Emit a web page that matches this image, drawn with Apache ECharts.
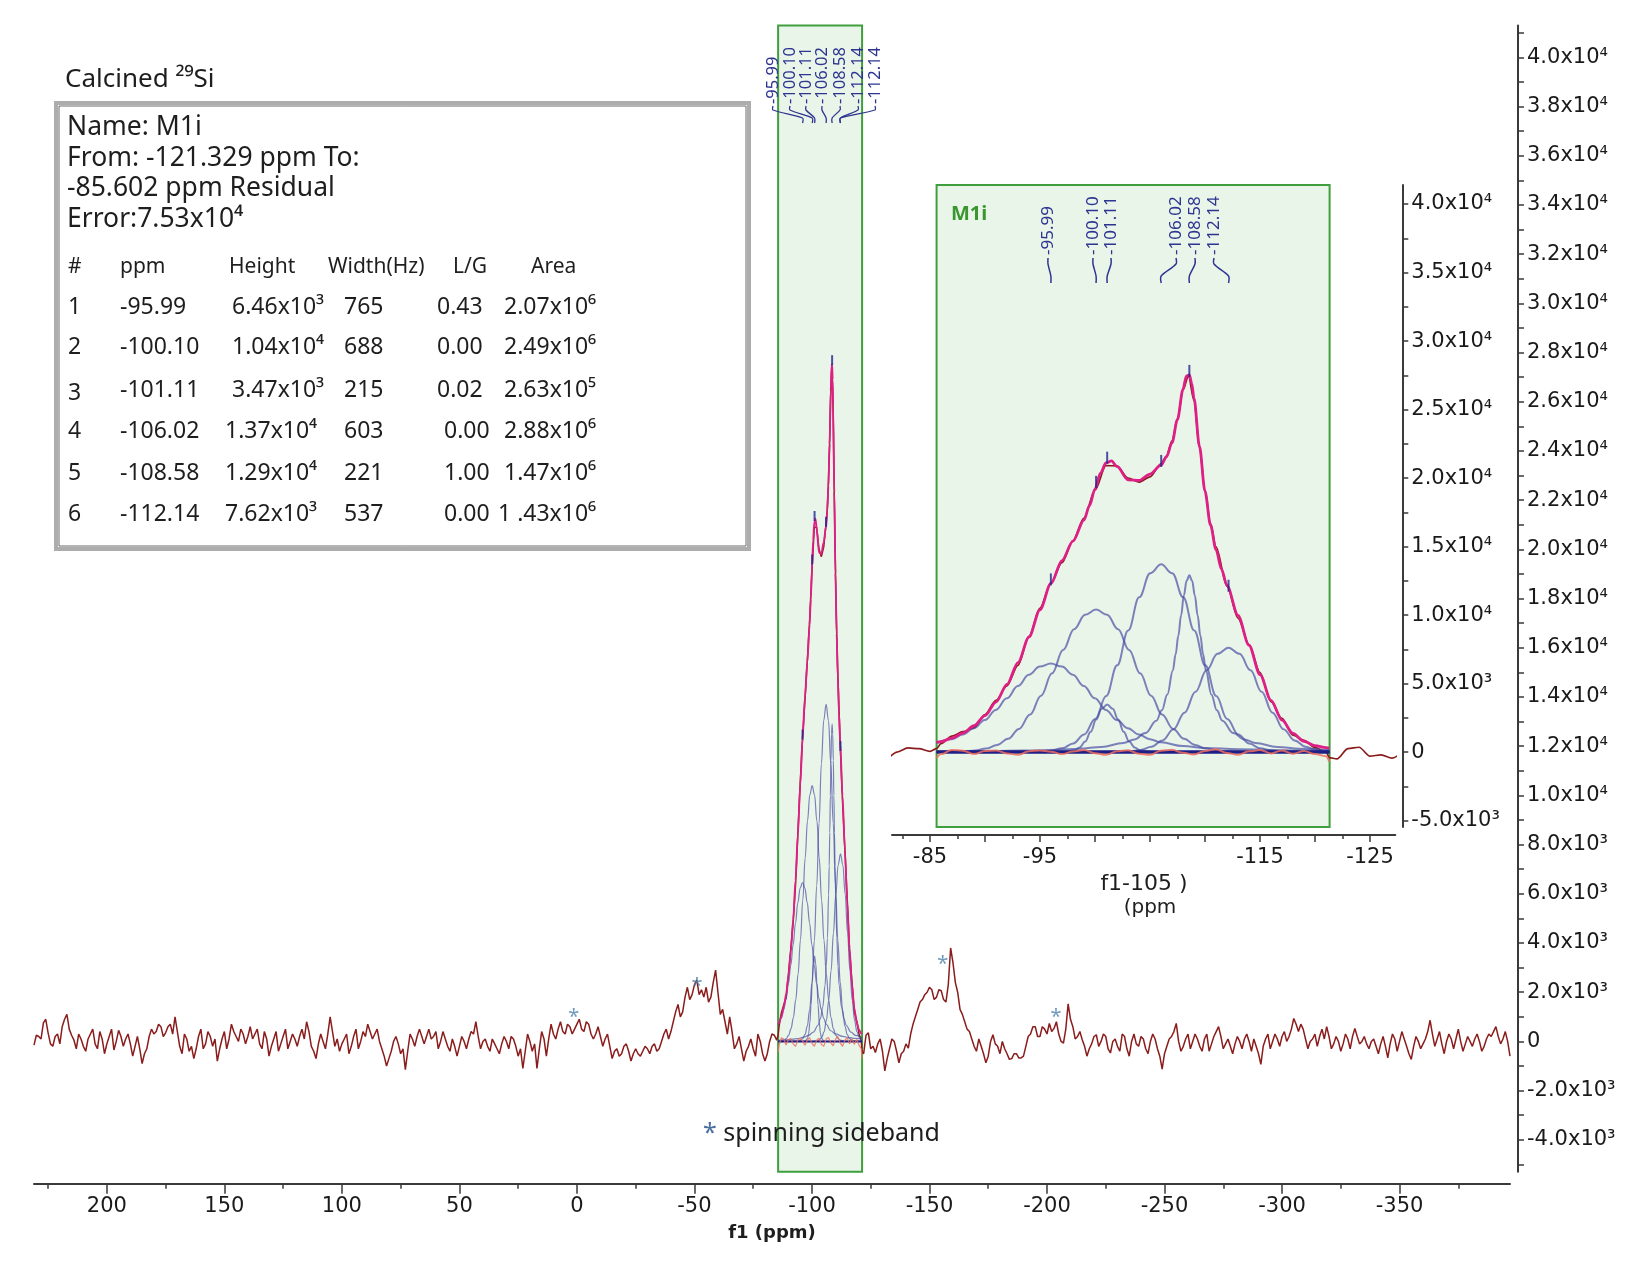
<!DOCTYPE html>
<html>
<head>
<meta charset="utf-8">
<script src="https://cdn.jsdelivr.net/npm/echarts@6.0.0/dist/echarts.min.js"></script>
<style>
  html, body { margin: 0; padding: 0; background: #fff; }
  #chart { width: 1651px; height: 1263px; }
</style>
</head>
<body>
<div id="chart"></div>
<script>
// ---- fit report (table) ----
const peakNo = ['1', '2', '3', '4', '5', '6'];
const peakPpm = [-95.99, -100.10, -101.11, -106.02, -108.58, -112.14];
const peakPpmText = ['-95.99', '-100.10', '-101.11', '-106.02', '-108.58', '-112.14'];
const peakHeightText = ['6.46x10³', '1.04x10⁴', '3.47x10³', '1.37x10⁴', '1.29x10⁴', '7.62x10³'];
const peakWidthText = ['765', '688', '215', '603', '221', '537'];
const peakLGText = ['0.43', '0.00', '0.02', '0.00', '1.00', '0.00'];
const peakAreaText = ['2.07x10⁶', '2.49x10⁶', '2.63x10⁵', '2.88x10⁶', '1.47x10⁶', '1 .43x10⁶'];
// fit value where the small peak ticks sit
const peakMarkY = [12310, 19430, 21196, 20960, 27529, 11848];
// the top labels of the full spectrum (one value is printed twice)
const mainLabelText = ['-95.99', '-100.10', '-101.11', '-106.02', '-108.58', '-112.14', '-112.14'];
const mainLabelPpm = [-95.99, -100.10, -101.11, -106.02, -108.58, -112.14, -112.14];
const fitRange = [-85.602, -121.329];

// ---- experimental spectrum ----
// 231 ppm down to -83 ppm, every 1 ppm
const expLeftStart = 231;
const expLeft = [
  -150, 250, 200, 100, 750, 900, 350, -100, -200, 200, 300, -100, 600, 900, 1100, 500, 250, 50, -300,
  300, 100, -200, -400, 100, 300, 500, -100, -300, 400, 100, -500, -100, 200, 500, -350, 0, 450, 200, -200,
  100, 300, -100, -600, -200, 200, -300, -900, -500, -300, 200, 500, 300, 400, 700, 600, 200, 350, 600, 700,
  300, 1000, 400, -200, -500, 300, 100, -400, -200, -700, -300, 200, 500, -300, -100, 400, 200, -200, 100, -800,
  -300, 100, 400, -300, 100, 700, 400, 200, 0, 500, 300, -100, 200, 600, 100, 300, 500, -100, -300, 400,
  100, -600, -200, 100, 400, -400, -100, 200, 500, -300, 0, 300, 100, -200, 200, 500, 100, 800, 400, -200,
  -400, -700, -100, 300, 0, -300, 300, 1000, 400, -200, 100, -400, -100, 100, 300, -500, -200, 200, 500, -300,
  0, 400, 200, 700, 400, 100, 300, 500, 0, -300, -600, -1000, -700, -400, 0, 200, -100, -500, -300, -1150,
  -400, 300, 100, -200, 200, 500, 200, -100, 200, 500, 100, 200, 400, -300, 0, 400, 100, -200, -400, 100,
  -200, -600, -200, 200, 0, -300, 100, 400, 300, 800, 200, -300, 0, 100, -200, -400, 100, -100, -300, -500,
  -100, 200, 0, -300, 200, 100, -200, -600, -300, -1100, -400, 300, 0, -400, -100, -1100, -300, 400, 100, -600,
  100, 700, 300, 100, 500, 800, 400, 300, 700, 600, 300, 500, 700, 900, 500, 400, 800, 700, 300, 100,
  300, 600, 200, -200, 100, 300, -200, -700, -400, -300, -600, -500, -200, -100, -400, -800, -500, -300, -500, -600,
  -400, -200, -300, -500, -200, -100, -400, -300, 0, 300, 500, 100, 400, 800, 1200, 1500, 1000, 1200, 1800, 2200,
  1700, 1900, 2300, 2500, 1900, 2100, 1800, 2200, 1600, 1800, 2400, 2900, 2000, 1100, 1300, 800, 300, 1000, 400, -300,
  -100, 200, -300, -800, -400, -200, 100, -300, -600, 300, 0, -500, -800, -500, 0, 300
];
// fitted region, finer
const expCentral = [
  [-84, 250], [-85, 50], [-85.6, 250], [-86, 615], [-87, 1166], [-88, 1488], [-89, 1769],
  [-90, 2738], [-91, 3772], [-92, 4835], [-93, 6334], [-94, 8453], [-95, 10501], [-96, 12339],
  [-97, 13828], [-98, 15436], [-99, 17085], [-100, 19117], [-101, 20904], [-102, 20895],
  [-103, 20003], [-104, 19704], [-105, 20092], [-106, 21042], [-106.5, 21600], [-107, 22721],
  [-107.5, 24300], [-108, 26423], [-108.5, 27440], [-109, 25659], [-109.5, 22200], [-110, 19118],
  [-110.5, 16700], [-111, 14971], [-112, 12103], [-113, 9779], [-114, 7847], [-115, 5807],
  [-116, 3679], [-117, 2453], [-118, 1238], [-119, 862], [-120, 324], [-121, 24],
  [-121.3, -405], [-122, -500]
];
// -123 ppm down to -397 ppm, every 1 ppm
const expRightStart = -123;
const expRight = [
  250, 350, -300, -200, -450, -100, 100, -400, -1200, -700, -300, 100, 0, -400, -870, -500, -400, -100, -270, 300,
  700, 1000, 1300, 1600, 1700, 1900, 2000, 2200, 2100, 1700, 1800, 2100, 2060, 1700, 1600, 2300, 3800, 3200, 2400, 2000,
  1300, 1100, 800, 500, 400, 100, -200, -400, 100, -200, -500, -870, -600, 0, 270, -100, -200, -500, 0, -300,
  -500, -730, -700, -500, -500, -670, -670, -600, -200, 200, 300, 600, 600, 200, 200, 600, 500, 300, 730, 400,
  530, 800, 300, 0, -70, 500, 1530, 900, 600, 100, 200, 400, 70, -200, -600, -300, -100, 200, 270, -200,
  0, 300, 200, -300, -470, 0, 100, -200, -400, 300, 200, -300, -600, 0, 300, -100, -200, 200, 100, -300,
  -500, 0, 300, 100, -300, -600, -1130, -500, -200, 100, 200, 400, 730, 0, -400, -200, 100, 300, -300, 0,
  300, 100, -200, -400, 100, 300, -400, -100, 200, 400, 600, 200, -300, -100, 100, -200, -500, -100, 200, 0,
  -300, 100, 300, 0, -400, 100, -200, -500, -930, -200, 100, 300, -300, 0, 300, 100, -200, 200, 400, 0,
  200, 500, 930, 700, 400, 700, 500, 100, -300, 0, 100, 300, -200, 200, 500, 100, 600, 200, -300, -100,
  200, 0, -400, -100, 300, 100, -300, 200, 530, 200, -100, 0, 200, -100, -300, 0, 100, -200, -500, -100,
  200, -200, -670, -100, 300, 100, -400, 0, 400, 100, -200, -500, -730, -200, 200, 0, -300, -100, 100, 400,
  860, 300, -200, 100, 400, -100, -500, 0, 300, 100, -300, 100, 500, 0, -400, -100, 200, 0, -200, 100,
  300, 0, -400, -200, 100, 300, 200, 400, 600, 200, -100, 100, 400, 0, -600
];
const expStep = 1;

// ---- fit, residual, components ----
const fitCurve = [
  [-85.6, 702], [-86, 765], [-87, 1016], [-88, 1388], [-89, 1919], [-90, 2658], [-91, 3652],
  [-92, 4935], [-93, 6534], [-94, 8393], [-95, 10381], [-96, 12309], [-97, 13978], [-98, 15396],
  [-99, 16935], [-99.5, 17987], [-100, 19197], [-100.5, 20361], [-101, 21104], [-101.5, 21248],
  [-102, 20845], [-103, 19873], [-104, 19824], [-105, 20292], [-106, 20942], [-106.5, 21539],
  [-107, 22561], [-107.5, 24283], [-108, 26473], [-108.3, 27440], [-108.58, 27529], [-108.8, 26894],
  [-109, 25839], [-109.5, 22317], [-110, 19038], [-110.5, 16576], [-111, 14771], [-111.5, 13358],
  [-112, 12163], [-113, 9979], [-114, 7797], [-115, 5657], [-116, 3779], [-117, 2333],
  [-118, 1358], [-119, 782], [-120, 474], [-121, 324], [-121.3, 295]
];
const residual = [
  [-85.6, -450], [-86, -150], [-87, 150], [-88, 100], [-89, -150], [-90, 80], [-91, 120],
  [-92, -100], [-93, -200], [-94, 60], [-95, 120], [-96, 30], [-97, -150], [-98, 40], [-99, 150],
  [-100, -80], [-101, -200], [-102, 50], [-103, 130], [-104, -120], [-105, -200], [-106, 100],
  [-107, 160], [-108, -50], [-109, -180], [-110, 80], [-111, 200], [-112, -60], [-113, -200],
  [-114, 50], [-115, 150], [-116, -100], [-117, 120], [-118, -120], [-119, 80], [-120, -150],
  [-121, -300], [-121.3, -700]
];
const comp1 = [
  [-85.6, 650], [-86.99, 942], [-87.99, 1279], [-88.99, 1739], [-89.99, 2339], [-90.99, 3079],
  [-91.99, 3921], [-92.99, 4813], [-93.99, 5638], [-94.99, 6236], [-95.99, 6460], [-96.99, 6236],
  [-97.99, 5638], [-98.99, 4813], [-99.99, 3921], [-100.99, 3079], [-101.99, 2339], [-102.99, 1739],
  [-103.99, 1279], [-104.99, 942], [-105.99, 707], [-107.99, 434], [-109.99, 304], [-112.99, 206],
  [-115.99, 152], [-118.5, 121], [-121.3, 97]
];
const comp2 = [
  [-85.6, 5], [-88.1, 50], [-89.1, 118], [-90.1, 256], [-91.1, 517], [-92.1, 970], [-93.1, 1692],
  [-94.1, 2739], [-95.1, 4118], [-96.1, 5748], [-97.1, 7451], [-98.1, 8967], [-99.1, 10021],
  [-100.1, 10400], [-101.1, 10021], [-102.1, 8967], [-103.1, 7451], [-104.1, 5748], [-105.1, 4118],
  [-106.1, 2739], [-107.1, 1692], [-108.1, 970], [-109.1, 517], [-110.1, 256], [-111.1, 118],
  [-112.1, 50], [-114.1, 7], [-121.3, 0]
];
const comp3 = [
  [-85.6, 0], [-96.11, 1], [-97.11, 15], [-98.11, 123], [-98.61, 331], [-99.11, 764], [-99.61, 1476],
  [-100.11, 2370], [-100.61, 3154], [-101.11, 3470], [-101.61, 3154], [-102.11, 2370], [-102.61, 1476],
  [-103.11, 764], [-103.61, 331], [-104.11, 123], [-105.11, 15], [-106.11, 1], [-121.3, 0]
];
const comp4 = [
  [-85.6, 0], [-92.02, 1], [-94.02, 13], [-95.02, 40], [-96.02, 110], [-97.02, 275], [-98.02, 625],
  [-99.02, 1288], [-100.02, 2413], [-101.02, 4100], [-102.02, 6331], [-103.02, 8873], [-104.02, 11296],
  [-105.02, 13055], [-106.02, 13700], [-107.02, 13055], [-108.02, 11296], [-109.02, 8873],
  [-110.02, 6331], [-111.02, 4100], [-112.02, 2413], [-113.02, 1288], [-114.02, 625], [-115.02, 275],
  [-116.02, 110], [-117.02, 40], [-118.02, 13], [-120.02, 1], [-121.3, 0]
];
const comp5 = [
  [-85.6, 47], [-90.58, 76], [-93.58, 110], [-96.58, 171], [-98.58, 244], [-100.58, 378],
  [-102.58, 657], [-103.58, 925], [-104.58, 1390], [-105.58, 2280], [-106.08, 3046], [-106.58, 4202],
  [-107.08, 5960], [-107.33, 7132], [-107.58, 8500], [-107.83, 9991], [-108.08, 11422], [-108.33, 12495],
  [-108.58, 12900], [-108.83, 12495], [-109.08, 11422], [-109.33, 9991], [-109.58, 8500], [-109.83, 7132],
  [-110.08, 5960], [-110.58, 4202], [-111.08, 3046], [-111.58, 2280], [-112.58, 1390], [-113.58, 925],
  [-114.58, 657], [-116.58, 378], [-118.58, 244], [-121.3, 152]
];
const comp6 = [
  [-85.6, 0], [-100.14, 1], [-102.14, 17], [-103.14, 55], [-104.14, 155], [-105.14, 386],
  [-106.14, 852], [-107.14, 1664], [-108.14, 2878], [-109.14, 4407], [-110.14, 5974], [-111.14, 7170],
  [-112.14, 7620], [-113.14, 7170], [-114.14, 5974], [-115.14, 4407], [-116.14, 2878], [-117.14, 1664],
  [-118.14, 852], [-119.14, 386], [-120.14, 155], [-121.14, 55], [-121.3, 48]
];
const components = [comp1, comp2, comp3, comp4, comp5, comp6];

// spinning sideband markers
const sidebandMarks = [[1.3, 996], [-51.1, 2256], [-155.7, 3130], [-203.8, 996]];

// ---- axis ticks ----
const mainXMajor = [200, 150, 100, 50, 0, -50, -100, -150, -200, -250, -300, -350];
const mainXMinor = [225, 175, 125, 75, 25, -25, -75, -125, -175, -225, -275, -325, -375];
const mainYLabels = [-4000, -2000, 0, 2000, 4000, 6000, 8000, 10000, 12000, 14000, 16000, 18000,
  20000, 22000, 24000, 26000, 28000, 30000, 32000, 34000, 36000, 38000, 40000];
const insetXMajor = [-85, -90, -95, -100, -105, -110, -115, -120, -125];
const insetXLabels = [-85, -95, -115, -125];
const insetXMinor = [-82.5, -87.5, -92.5, -97.5, -102.5, -107.5, -112.5, -117.5, -122.5];
const insetYLabels = [-5000, 0, 5000, 10000, 15000, 20000, 25000, 30000, 35000, 40000];

const expData = [];
expLeft.forEach((v, i) => expData.push([expLeftStart - expStep * i, v]));
expCentral.forEach(p => expData.push(p));
expRight.forEach((v, i) => expData.push([expRightStart - expStep * i, v]));

const mainYTicks = [];
for (let v = -5000; v <= 41000; v += 1000) mainYTicks.push(v);
const insetYTicks = [];
for (let v = -5000; v <= 40000; v += 2500) insetYTicks.push(v);

function sci(v) {
  if (v === 0) return '0';
  const e = Math.abs(v) >= 10000 ? 4 : 3;
  return (v / Math.pow(10, e)).toFixed(1) + 'x10' + (e === 4 ? '⁴' : '³');
}

const AX = '#3a3a3a';
const TF = 'DejaVu Sans';
const EXP = '#8b1c1c', FIT = '#de1f86', COMP = 'rgba(70,74,160,0.68)', RES = 'rgba(240,110,95,0.85)', BASE = '#1e1e84';
const PEAK = '#24248c';

function xAxisDef(grid, min, max, offset, ticks, labels, len) {
  return {
    type: 'value', gridIndex: grid, min: min, max: max, inverse: true, position: 'bottom', offset: offset,
    axisLine: { show: !!labels, onZero: false, lineStyle: { color: AX, width: 2 } },
    axisTick: { show: true, length: len, customValues: ticks, lineStyle: { color: AX, width: 1.5 } },
    axisLabel: labels ? { customValues: labels, margin: 12, fontFamily: TF, fontSize: 21, color: '#1a1a1a' } : { show: false },
    splitLine: { show: false }
  };
}
function yAxisDef(grid, min, max, offset, ticks, labels) {
  return {
    type: 'value', gridIndex: grid, min: min, max: max, position: 'right', offset: offset,
    axisLine: { show: true, onZero: false, lineStyle: { color: AX, width: 2 } },
    axisTick: { show: true, length: 6, customValues: ticks, lineStyle: { color: AX, width: 1.5 } },
    axisLabel: { customValues: labels, formatter: sci, margin: 9, fontFamily: TF, fontSize: 21, color: '#1a1a1a' },
    splitLine: { show: false }
  };
}
function line(data, xi, yi, color, width, z, smooth) {
  return {
    type: 'line', xAxisIndex: xi, yAxisIndex: yi, data: data, symbol: 'none', z: z,
    smooth: smooth || false, smoothMonotone: 'x',
    lineStyle: { color: color, width: width }, silent: true
  };
}
function boxSeries(xi, yi, yMin, yMax) {
  return {
    type: 'line', xAxisIndex: xi, yAxisIndex: yi, data: [], z: 0, silent: true,
    markArea: {
      silent: true,
      itemStyle: { color: '#eaf5ea', borderColor: '#3f9f3f', borderWidth: 2 },
      data: [[{ xAxis: fitRange[0], yAxis: yMax }, { xAxis: fitRange[1], yAxis: yMin }]]
    }
  };
}
function peakTicks(xi, yi, size) {
  return {
    type: 'scatter', xAxisIndex: xi, yAxisIndex: yi, z: 6, silent: true,
    symbol: 'rect', symbolSize: size, symbolOffset: [0, -4],
    itemStyle: { color: PEAK },
    data: peakPpm.map((p, i) => [p, peakMarkY[i]])
  };
}

const series = [];
// main spectrum (grid 0)
series.push(boxSeries(0, 0, -5300, 41300));
series.push(line(expData, 0, 0, EXP, 1.5, 2));
components.forEach(c => series.push(line(c, 0, 0, COMP, 1.2, 3, 0.4)));
series.push(line([[fitRange[0], 0], [fitRange[1], 0]], 0, 0, BASE, 2, 4));
series.push(line(residual, 0, 0, RES, 1.2, 4));
series.push(line(fitCurve, 0, 0, FIT, 1.9, 5, 0.3));
series.push(peakTicks(0, 0, [2, 10]));
series.push({
  type: 'scatter', xAxisIndex: 0, yAxisIndex: 0, z: 7, silent: true,
  symbolSize: 1, itemStyle: { color: 'rgba(0,0,0,0)' },
  label: { show: true, position: 'inside', formatter: '*', fontFamily: 'Noto Sans', fontSize: 20, color: '#4b82a8' },
  data: sidebandMarks
});
// inset (grid 1)
series.push(boxSeries(2, 1, -5470, 41390));
series.push(line(expData, 2, 1, EXP, 1.7, 2, 0.3));
components.forEach(c => series.push(line(c, 2, 1, COMP, 2, 3, 0.4)));
series.push(line([[fitRange[0], 0], [fitRange[1], 0]], 2, 1, BASE, 3.5, 4));
series.push(line(residual, 2, 1, RES, 2, 4, 0.4));
series.push(line(fitCurve, 2, 1, FIT, 2.8, 5, 0.3));
series.push(peakTicks(2, 1, [2, 12]));

const option = {
  animation: false,
  backgroundColor: '#ffffff',
  grid: [
    { left: 34, top: 25.4, width: 1476, height: 1146.4, containLabel: false, outerBoundsMode: 'none' },
    { left: 892, top: 185, width: 503.3, height: 642, containLabel: false, outerBoundsMode: 'none' }
  ],
  xAxis: [
    xAxisDef(0, -397, 231, 12, mainXMajor, mainXMajor, 10),
    xAxisDef(0, -397, 231, 12, mainXMinor, null, 5),
    xAxisDef(1, -127.3, -81.55, 8, insetXMajor, insetXLabels, 7),
    xAxisDef(1, -127.3, -81.55, 8, insetXMinor, null, 4)
  ],
  yAxis: [
    yAxisDef(0, -5300, 41300, 8, mainYTicks, mainYLabels),
    yAxisDef(1, -5470, 41390, 7, insetYTicks, insetYLabels)
  ],
  series: series
};

const chart = echarts.init(document.getElementById('chart'));
chart.setOption(option);

// ---- text blocks, table and peak labels ----
const TXT = '#1e1e1e';
function text(str, x, y, size, opts) {
  const o = opts || {};
  return {
    type: 'text', x: x, y: y, rotation: o.rotation || 0, z: 100,
    style: {
      text: str, fill: o.color || TXT, fontFamily: o.family || 'Noto Sans', fontSize: size,
      fontWeight: o.weight || 'normal', align: o.align || 'left', verticalAlign: 'middle'
    }
  };
}
const g = [];
g.push(text('Calcined ²⁹Si', 65, 80, 26));
g.push({ type: 'rect', z: 90, shape: { x: 56, y: 103, width: 693, height: 446 },
  style: { fill: '#ffffff', stroke: '#adadad', lineWidth: 4 } });
g.push({ type: 'rect', z: 91, shape: { x: 59, y: 106, width: 687, height: 440 },
  style: { fill: 'none', stroke: '#6a6a6a', lineWidth: 1 } });
['Name: M1i', 'From: -121.329 ppm To:', '-85.602 ppm Residual', 'Error:7.53x10⁴']
  .forEach((s, i) => g.push(text(s, 67, [127, 158, 188, 219][i], 26.5)));
const headX = [68, 120, 229, 328, 453, 531];
['#', 'ppm', 'Height', 'Width(Hz)', 'L/G', 'Area'].forEach((s, i) => g.push(text(s, headX[i], 267, 21)));
const rowY = [307, 347, 390, 431, 473, 514];
peakNo.forEach((n, i) => {
  const y = rowY[i];
  g.push(text(n, 68, y + (i === 2 ? 3 : 0), 23));
  g.push(text(peakPpmText[i], 120, y, 23));
  g.push(text(peakHeightText[i], i < 3 ? 232 : 225, y, 23));
  g.push(text(peakWidthText[i], 344, y, 23));
  g.push(text(peakLGText[i], i < 3 ? 437 : 444, y, 23));
  g.push(text(peakAreaText[i], i < 5 ? 504 : 498, y, 23));
});

g.push({
  type: 'text', x: 703, y: 1134, z: 100,
  style: {
    text: '{a|*} spinning sideband', fill: TXT, fontFamily: 'Noto Sans', fontSize: 25, verticalAlign: 'middle',
    rich: { a: { fill: '#4b6fa0', fontFamily: 'Noto Sans', fontSize: 25 } }
  }
});
g.push(text('f1 (ppm)', 772, 1233, 18, { family: TF, weight: 'bold', align: 'center' }));
g.push(text('f1-105 )', 1144, 884, 22, { family: TF, align: 'center' }));
g.push(text('(ppm', 1150, 908, 20, { family: TF, align: 'center' }));
g.push(text('M1i', 951, 214, 20, { weight: 'bold', color: '#3a962e' }));

const LBL = '#2d3590';
// main spectrum labels
const mainLabelX = [773, 790, 806, 822, 840, 858, 875];
mainLabelText.forEach((s, i) => {
  const lx = mainLabelX[i];
  const px = chart.convertToPixel({ xAxisIndex: 0 }, mainLabelPpm[i]);
  g.push(text(s, lx, 104, 16.5, { rotation: Math.PI / 2, color: LBL }));
  g.push({ type: 'polyline', z: 100, shape: { points: [[lx, 106], [lx, 110], [px, 118], [px, 123]], smooth: 0.3 },
    style: { stroke: LBL, lineWidth: 1.3, fill: 'none' } });
});
// inset labels
const insetLabelX = [1048, 1093, 1111, 1176, 1195, 1214];
peakPpmText.forEach((s, i) => {
  const lx = insetLabelX[i];
  const px = chart.convertToPixel({ xAxisIndex: 2 }, peakPpm[i]);
  g.push(text(s, lx, 255, 17, { rotation: Math.PI / 2, color: LBL }));
  g.push({ type: 'polyline', z: 100, shape: { points: [[lx, 258], [lx, 264], [px, 276], [px, 283]], smooth: 0.3 },
    style: { stroke: LBL, lineWidth: 1.5, fill: 'none' } });
});

chart.setOption({ graphic: g });
</script>
</body>
</html>
